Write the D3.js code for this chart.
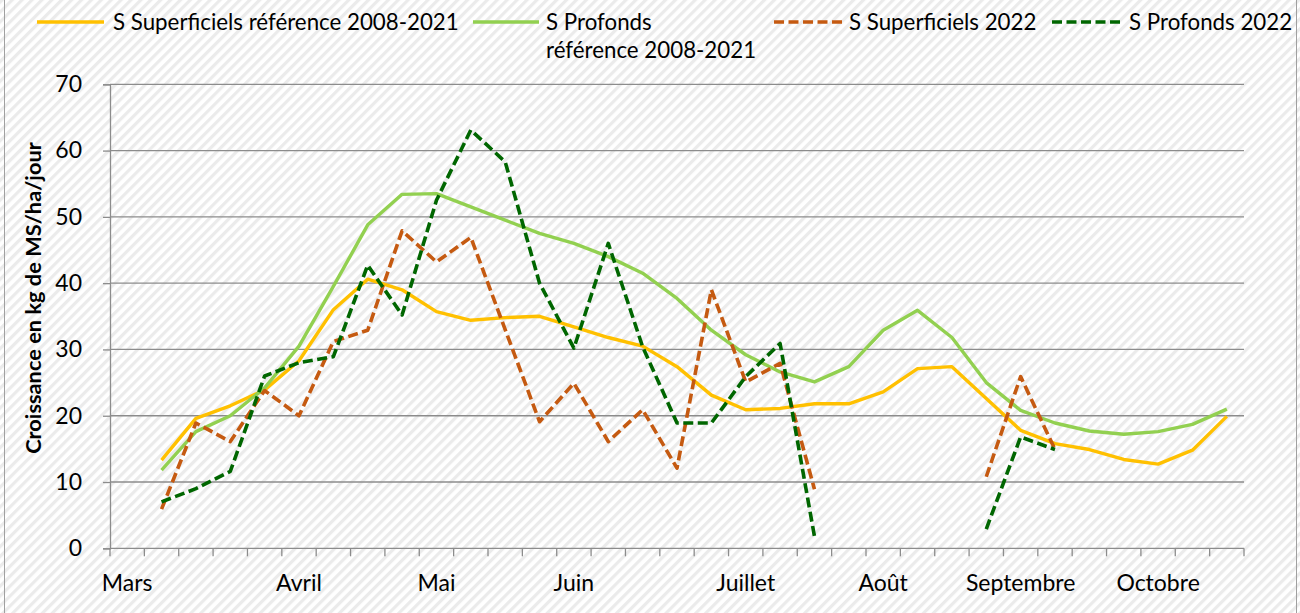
<!DOCTYPE html>
<html>
<head>
<meta charset="utf-8">
<script src="https://cdn.jsdelivr.net/npm/d3@7"></script>
<style>
  html, body { margin: 0; padding: 0; background: #fff; }
  svg { display: block; }
  text { font-family: Lato, "Open Sans", sans-serif; fill: #000; }
</style>
</head>
<body>
<svg id="chart" width="1300" height="613"></svg>
<script>
// ---- data ----
const categories = ["Mars","","","","","Avril","","","","Mai","","","","Juin","","","","","Juillet","","","","Août","","","","Septembre","","","","Octobre","",""];
const yTicks = [0, 10, 20, 30, 40, 50, 60, 70];
const seriesNames = ["S Superficiels référence 2008-2021", "S Profonds référence 2008-2021", "S Superficiels 2022", "S Profonds 2022"];
const superficielsRef = [null, 13.3, 19.6, 21.5, 23.9, 28.3, 36.0, 40.6, 39.0, 35.7, 34.4, 34.8, 35.0, 33.4, 31.8, 30.5, 27.4, 23.1, 20.9, 21.1, 21.8, 21.8, 23.6, 27.1, 27.4, 22.6, 17.8, 15.8, 14.9, 13.4, 12.7, 14.8, 19.9];
const profondsRef = [null, 11.8, 17.6, 20.0, 24.2, 30.5, 39.5, 48.8, 53.4, 53.5, 51.5, 49.5, 47.5, 46.0, 44.0, 41.5, 37.7, 32.9, 29.2, 26.6, 25.1, 27.4, 32.9, 35.9, 31.8, 25.0, 20.8, 18.9, 17.7, 17.2, 17.6, 18.7, 21.0];
const superficiels2022 = [null, 5.9, 18.9, 16.1, 23.8, 20.0, 31.2, 32.9, 47.9, 43.2, 46.9, 33.0, 19.1, 24.9, 16.1, 20.9, 12.1, 39.0, 25.1, 27.9, 8.9, null, null, null, null, 10.8, 25.9, 14.9, null, null, null, null, null];
const profonds2022 = [null, 7.0, 9.0, 11.6, 26.0, 28.0, 28.9, 42.7, 35.2, 52.5, 63.1, 58.3, 40.0, 30.2, 46.0, 30.4, 18.9, 18.9, 25.9, 30.9, 1.8, null, null, null, null, 2.9, 16.8, 14.9, null, null, null, null, null];

(function () {
const colors = ["#FFC000", "#92D050", "#C55A11", "#006600"];
const dashed = [false, false, true, true];
const allSeries = [superficielsRef, profondsRef, superficiels2022, profonds2022];

const svg = d3.select("#chart");
const defs = svg.append("defs");
const pat = defs.append("pattern")
  .attr("id", "hatch").attr("patternUnits", "userSpaceOnUse")
  .attr("width", 7).attr("height", 7)
  .attr("patternTransform", "rotate(45)");
pat.append("rect").attr("width", 7).attr("height", 7).attr("fill", "#ffffff");
pat.append("rect").attr("width", 3.2).attr("height", 7).attr("fill", "#ebebeb");

svg.append("rect").attr("width", 1300).attr("height", 613).attr("fill", "url(#hatch)");
svg.append("rect").attr("x", 4.5).attr("y", -5).attr("width", 1292).attr("height", 625)
  .attr("fill", "none").attr("stroke", "#a0a0a0").attr("stroke-width", 1);

const pl = 110, pr = 1244, pt = 84.3, pb = 548.3;
const x = d3.scaleBand().domain(d3.range(categories.length)).range([pl, pr]).padding(0);
const y = d3.scaleLinear().domain([0, 70]).range([pb, pt]);

// gridlines
svg.append("g").selectAll("line").data(yTicks.filter(t => t > 0)).join("line")
  .attr("x1", pl).attr("x2", pr)
  .attr("y1", d => y(d)).attr("y2", d => y(d))
  .attr("stroke", "#8c8c8c").attr("stroke-width", 1.3);

// y axis
const yAxis = svg.append("g").attr("transform", `translate(${pl},0)`)
  .call(d3.axisLeft(y).tickValues(yTicks).tickSize(7).tickPadding(21));
yAxis.select(".domain").attr("stroke", "#8c8c8c").attr("stroke-width", 1.3);
yAxis.selectAll(".tick line").attr("stroke", "#8c8c8c").attr("stroke-width", 1.3);
yAxis.selectAll(".tick text").attr("font-size", 23).attr("font-family", "Lato, sans-serif").attr("fill", "#000");

// x axis: ticks between categories
const bounds = d3.range(categories.length + 1).map(i => pl + i * x.bandwidth());
const xg = svg.append("g");
xg.append("line").attr("x1", pl).attr("x2", pr).attr("y1", pb).attr("y2", pb)
  .attr("stroke", "#8c8c8c").attr("stroke-width", 1.3);
xg.selectAll("line.tk").data(bounds).join("line").attr("class", "tk")
  .attr("x1", d => d).attr("x2", d => d).attr("y1", pb).attr("y2", pb + 8)
  .attr("stroke", "#8c8c8c").attr("stroke-width", 1.3);
xg.selectAll("text").data(categories.map((c, i) => ({c, i})).filter(d => d.c)).join("text")
  .attr("x", d => x(d.i) + x.bandwidth() / 2).attr("y", 583)
  .attr("dy", "0.35em").attr("text-anchor", "middle").attr("font-size", 23)
  .text(d => d.c);

// y title
svg.append("text").attr("transform", "translate(33,298) rotate(-90)")
  .attr("text-anchor", "middle").attr("dy", "0.35em")
  .attr("font-size", 21.8).attr("font-weight", "bold")
  .text("Croissance en kg de MS/ha/jour");

// lines
const line = d3.line().defined(d => d.v != null)
  .x(d => x(d.i) + x.bandwidth() / 2).y(d => y(d.v));
allSeries.forEach((s, k) => {
  svg.append("path").datum(s.map((v, i) => ({v, i})))
    .attr("fill", "none").attr("stroke", colors[k])
    .attr("stroke-width", dashed[k] ? 3.6 : 3.4)
    .attr("stroke-linejoin", "round")
    .attr("stroke-dasharray", dashed[k] ? "10,4.5" : null)
    .attr("d", line);
});

// legend
const legendItems = [
  {x1: 37, x2: 104, tx: 113, lines: ["S Superficiels référence 2008-2021"]},
  {x1: 473, x2: 539, tx: 546, lines: ["S Profonds", "référence 2008-2021"]},
  {x1: 774, x2: 843, tx: 849, lines: ["S Superficiels 2022"]},
  {x1: 1052, x2: 1123, tx: 1129, lines: ["S Profonds 2022"]}
];
legendItems.forEach((it, k) => {
  svg.append("line").attr("x1", it.x1).attr("x2", it.x2).attr("y1", 22).attr("y2", 22)
    .attr("stroke", colors[k]).attr("stroke-width", dashed[k] ? 3.6 : 3.4)
    .attr("stroke-dasharray", dashed[k] ? "10,4.5" : null);
  const t = svg.append("text").attr("x", it.tx).attr("y", 22).attr("font-size", 22.3);
  it.lines.forEach((l, j) => {
    t.append("tspan").attr("x", it.tx).attr("dy", j === 0 ? "0.35em" : "1.25em").text(l);
  });
});
})();
</script>
</body>
</html>
